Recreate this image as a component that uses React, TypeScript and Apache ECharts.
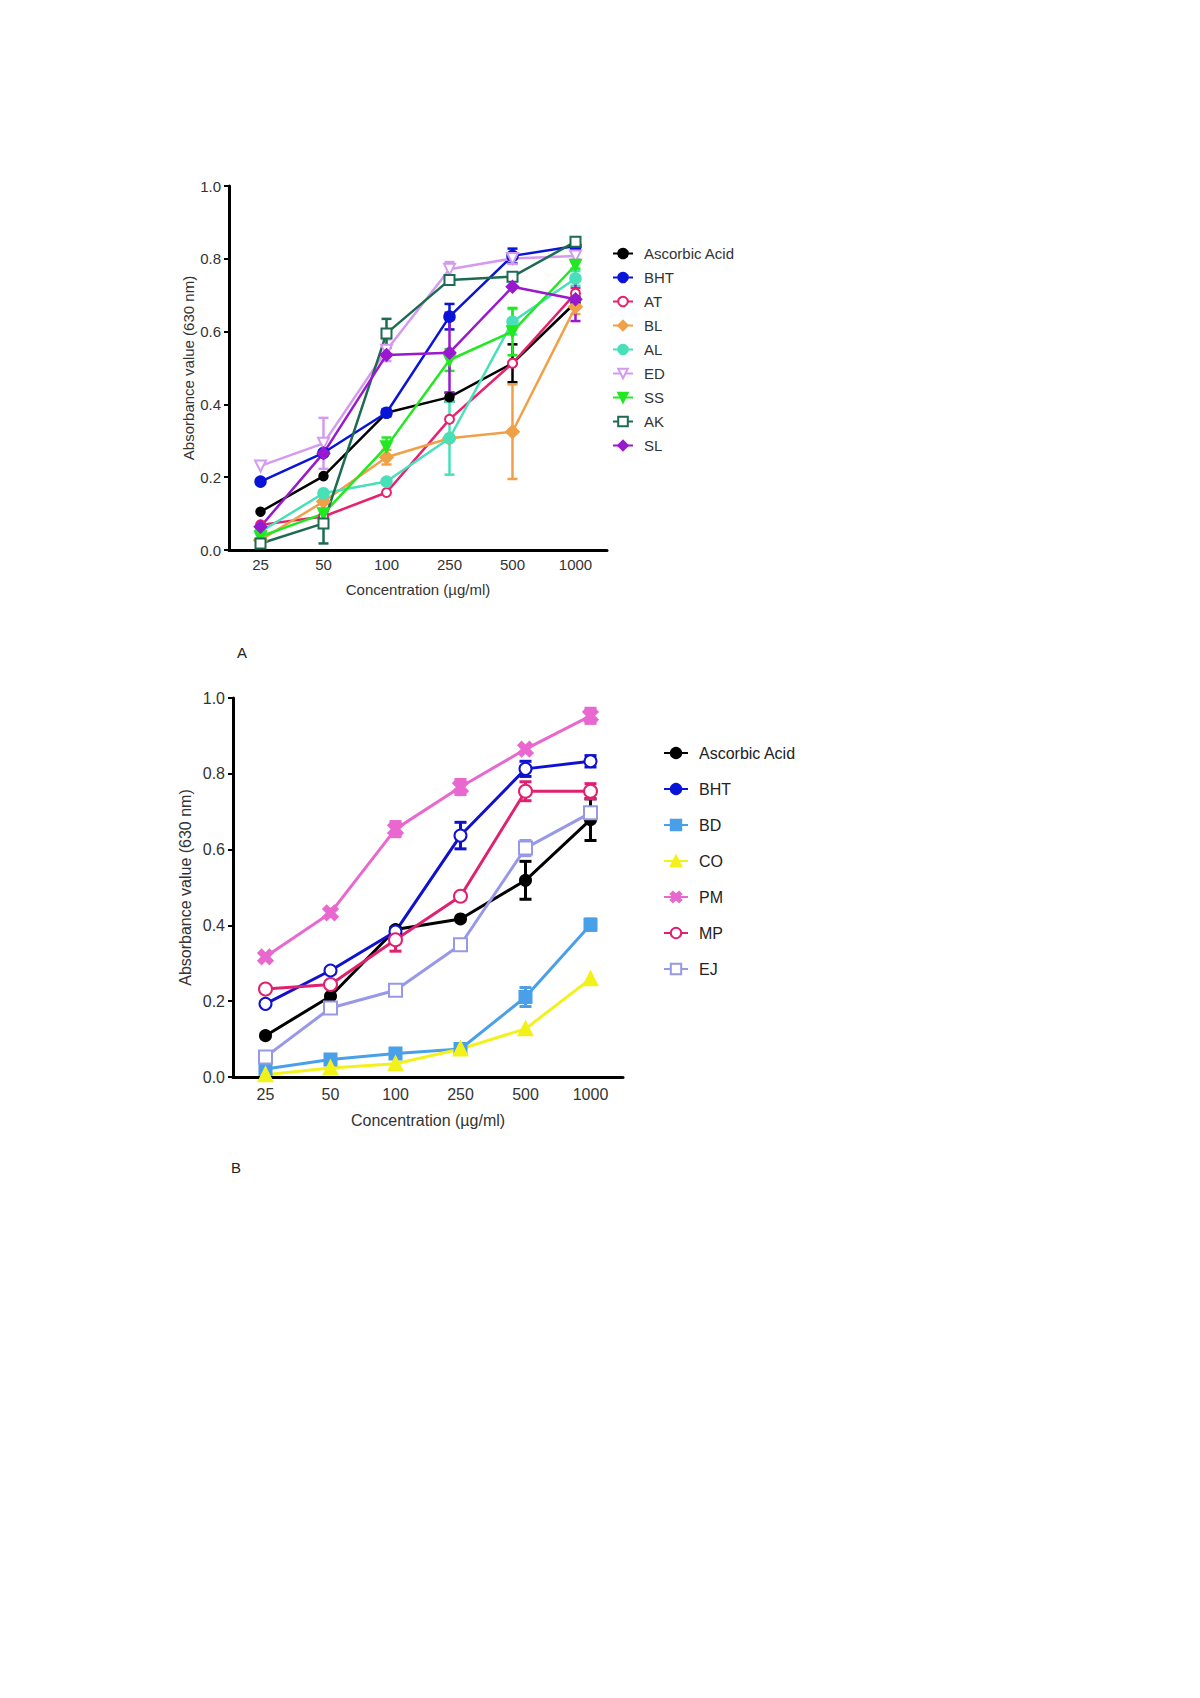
import React, { useEffect, useRef } from "react";
import * as echarts from "echarts";

const categories = ["25", "50", "100", "250", "500", "1000"];
const yTickValues = [0, 0.2, 0.4, 0.6, 0.8, 1.0];

// Chart A values
const aAA = [0.105, 0.203, 0.377, 0.42, 0.513, 0.68];
const eAA = [0, 0, 0, 0.012, 0.052, 0.015];
const aBHT = [0.188, 0.267, 0.377, 0.641, 0.808, 0.835];
const eBHT = [0, 0, 0.01, 0.035, 0.02, 0.008];
const aAT = [0.069, 0.092, 0.158, 0.359, 0.513, 0.705];
const eAT = [0, 0, 0, 0, 0, 0.015];
const aBL = [0.027, 0.133, 0.255, 0.307, 0.325, 0.668];
const eBL = [0, 0, 0.02, 0, 0.13, 0.02];
const aAL = [0.05, 0.156, 0.188, 0.307, 0.627, 0.746];
const eAL = [0, 0, 0, 0.1, 0.035, 0.02];
const aED = [0.231, 0.293, 0.549, 0.771, 0.801, 0.808];
const eED = [0, 0.07, 0.03, 0.02, 0.015, 0.01];
const aSS = [0.037, 0.1, 0.284, 0.522, 0.6, 0.783];
const eSS = [0, 0, 0.025, 0.03, 0.065, 0.01];
const aAK = [0.018, 0.073, 0.595, 0.742, 0.751, 0.847];
const eAK = [0, 0.055, 0.04, 0.01, 0.01, 0.01];
const aSL = [0.064, 0.266, 0.536, 0.542, 0.723, 0.689];
const eSL = [0, 0, 0, 0.11, 0, 0.06];

// Chart B values
const bAA = [0.109, 0.213, 0.389, 0.417, 0.519, 0.679];
const ebAA = [0, 0, 0, 0, 0.05, 0.055];
const bBHT = [0.193, 0.281, 0.384, 0.637, 0.813, 0.833];
const ebBHT = [0, 0, 0.01, 0.035, 0.02, 0.015];
const bBD = [0.021, 0.046, 0.062, 0.074, 0.211, 0.402];
const ebBD = [0, 0, 0, 0, 0.025, 0.015];
const bCO = [0.006, 0.024, 0.035, 0.074, 0.127, 0.259];
const ebCO = [0, 0, 0, 0, 0, 0];
const bPM = [0.317, 0.433, 0.654, 0.765, 0.865, 0.953];
const ebPM = [0, 0.01, 0.02, 0.02, 0, 0.02];
const bMP = [0.232, 0.244, 0.362, 0.477, 0.754, 0.754];
const ebMP = [0, 0.03, 0.03, 0, 0.025, 0.02];
const bEJ = [0.053, 0.182, 0.229, 0.349, 0.604, 0.697];
const ebEJ = [0, 0, 0, 0, 0.02, 0.01];

const namesA = ["Ascorbic Acid", "BHT", "AT", "BL", "AL", "ED", "SS", "AK", "SL"];
const namesB = ["Ascorbic Acid", "BHT", "BD", "CO", "PM", "MP", "EJ"];

const FONT = "'Liberation Sans', Arial, sans-serif";
const X_PATH = "path://M0,2 L2,0 L5,3 L8,0 L10,2 L7,5 L10,8 L8,10 L5,7 L2,10 L0,8 L3,5 Z";

type Spec = {
  name: string;
  values: number[];
  errors: number[];
  color: string;
  symbol: string;
  size: number;
  rotate?: number;
};

const specsA: Spec[] = [
  { name: "Ascorbic Acid", values: aAA, errors: eAA, color: "#000000", symbol: "circle", size: 8 },
  { name: "BHT", values: aBHT, errors: eBHT, color: "#0a14d8", symbol: "circle", size: 10 },
  { name: "AT", values: aAT, errors: eAT, color: "#e8206e", symbol: "emptyCircle", size: 9 },
  { name: "BL", values: aBL, errors: eBL, color: "#f0a048", symbol: "diamond", size: 12 },
  { name: "AL", values: aAL, errors: eAL, color: "#48e0b8", symbol: "circle", size: 10 },
  { name: "ED", values: aED, errors: eED, color: "#d49af0", symbol: "emptyTriangle", size: 11, rotate: 180 },
  { name: "SS", values: aSS, errors: eSS, color: "#22e822", symbol: "triangle", size: 10, rotate: 180 },
  { name: "AK", values: aAK, errors: eAK, color: "#1d6b50", symbol: "emptyRect", size: 10 },
  { name: "SL", values: aSL, errors: eSL, color: "#9a18d0", symbol: "diamond", size: 11 },
];

const specsB: Spec[] = [
  { name: "Ascorbic Acid", values: bAA, errors: ebAA, color: "#000000", symbol: "circle", size: 10 },
  { name: "BHT", values: bBHT, errors: ebBHT, color: "#1010d0", symbol: "emptyCircle", size: 12 },
  { name: "BD", values: bBD, errors: ebBD, color: "#4aa0e8", symbol: "rect", size: 11 },
  { name: "CO", values: bCO, errors: ebCO, color: "#f2f21a", symbol: "triangle", size: 12 },
  { name: "PM", values: bPM, errors: ebPM, color: "#e868d0", symbol: X_PATH, size: 13 },
  { name: "MP", values: bMP, errors: ebMP, color: "#e02070", symbol: "emptyCircle", size: 13 },
  { name: "EJ", values: bEJ, errors: ebEJ, color: "#9898e8", symbol: "emptyRect", size: 13 },
];

function buildSeries(specs: Spec[], axisIndex: number, capHalf: number, lw: number) {
  const out: any[] = [];
  specs.forEach((s) => {
    out.push({
      type: "line",
      name: s.name,
      xAxisIndex: axisIndex,
      yAxisIndex: axisIndex,
      data: s.values,
      symbol: s.symbol,
      symbolSize: s.size,
      symbolRotate: s.rotate || 0,
      showAllSymbol: true,
      lineStyle: { color: s.color, width: lw },
      itemStyle: { color: s.color, borderColor: s.color, borderWidth: lw },
      z: 3,
    });
    out.push({
      type: "custom",
      name: s.name + " error",
      xAxisIndex: axisIndex,
      yAxisIndex: axisIndex,
      data: s.values.map((v, i) => [i, v, s.errors[i]]),
      encode: { x: 0, y: 1 },
      z: 2,
      renderItem: (params: any, api: any) => {
        const idx = api.value(0);
        const v = api.value(1);
        const e = api.value(2);
        if (!e) return { type: "group", children: [] };
        const top = api.coord([idx, v + e]);
        const bot = api.coord([idx, v - e]);
        const st = { stroke: s.color, lineWidth: lw };
        return {
          type: "group",
          children: [
            { type: "line", shape: { x1: top[0], y1: top[1], x2: bot[0], y2: bot[1] }, style: st },
            { type: "line", shape: { x1: top[0] - capHalf, y1: top[1], x2: top[0] + capHalf, y2: top[1] }, style: st },
            { type: "line", shape: { x1: bot[0] - capHalf, y1: bot[1], x2: bot[0] + capHalf, y2: bot[1] }, style: st },
          ],
        };
      },
    });
  });
  return out;
}

function xAxisCfg(gridIndex: number, nameGap: number, margin: number, nameSize: number, labelSize: number) {
  return {
    type: "category",
    gridIndex,
    data: categories,
    boundaryGap: true,
    name: "Concentration (\u00b5g/ml)",
    nameLocation: "middle",
    nameGap,
    nameTextStyle: { color: "#333", fontSize: nameSize, fontFamily: FONT },
    axisLine: { lineStyle: { color: "#000", width: 3 } },
    axisTick: { alignWithLabel: true, length: 4, lineStyle: { color: "#000", width: 2 } },
    axisLabel: { color: "#333", fontSize: labelSize, fontFamily: FONT, margin },
    splitLine: { show: false },
  };
}

function yAxisCfg(gridIndex: number, nameGap: number, nameSize: number, labelSize: number) {
  return {
    type: "value",
    gridIndex,
    min: yTickValues[0],
    max: yTickValues[yTickValues.length - 1],
    interval: 0.2,
    name: "Absorbance value (630 nm)",
    nameLocation: "middle",
    nameGap,
    nameTextStyle: { color: "#333", fontSize: nameSize, fontFamily: FONT },
    axisLine: { show: true, lineStyle: { color: "#000", width: 3 } },
    axisTick: { show: true, length: 5, lineStyle: { color: "#000", width: 2 } },
    axisLabel: { color: "#333", fontSize: labelSize, fontFamily: FONT, margin: 8, formatter: (v: number) => v.toFixed(1) },
    splitLine: { show: false },
  };
}

export default function App() {
  const ref = useRef<HTMLDivElement>(null);
  useEffect(() => {
    if (!ref.current) return;
    const chart = echarts.init(ref.current, null, { renderer: "svg" });
    const option: any = {
      animation: false,
      backgroundColor: "#ffffff",
      textStyle: { fontFamily: FONT },
      grid: [
        { left: 229, top: 186, width: 378, height: 364 },
        { left: 233, top: 698, width: 390, height: 379 },
      ],
      xAxis: [xAxisCfg(0, 32, 7, 15, 15), xAxisCfg(1, 35, 9, 16, 16)],
      yAxis: [yAxisCfg(0, 33, 15, 15), yAxisCfg(1, 40, 16, 16)],
      legend: [
        {
          orient: "vertical",
          left: 612,
          top: 246,
          padding: 0,
          itemWidth: 20,
          itemHeight: 12,
          itemGap: 9,
          textStyle: { color: "#333", fontSize: 15, fontFamily: FONT, padding: [0, 0, 0, 6] },
          data: namesA,
          selectedMode: false,
        },
        {
          orient: "vertical",
          left: 663,
          top: 745,
          padding: 0,
          itemWidth: 24,
          itemHeight: 13,
          itemGap: 20,
          textStyle: { color: "#222", fontSize: 16, fontFamily: FONT, padding: [0, 0, 0, 6] },
          data: namesB,
          selectedMode: false,
        },
      ],
      graphic: [
        { type: "text", left: 237, top: 645, style: { text: "A", fontSize: 15, fill: "#222", fontFamily: FONT } },
        { type: "text", left: 231, top: 1160, style: { text: "B", fontSize: 15, fill: "#222", fontFamily: FONT } },
      ],
      series: [...buildSeries(specsA, 0, 5, 2.5), ...buildSeries(specsB, 1, 6, 3)],
    };
    chart.setOption(option);
    return () => chart.dispose();
  }, []);
  return (
    <div
      ref={ref}
      style={{ position: "absolute", left: 0, top: 0, width: 1200, height: 1698, background: "#fff" }}
    />
  );
}
